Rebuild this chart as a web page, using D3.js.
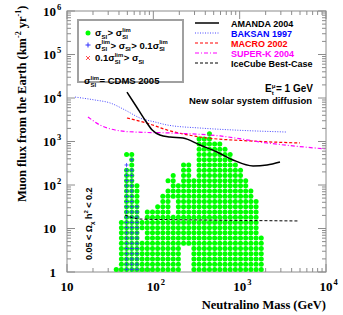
<!DOCTYPE html>
<html>
<head>
<meta charset="UTF-8">
<script src="https://d3js.org/d3.v7.min.js"></script>
<style>
  body { margin: 0; background: #fff; }
  svg text { font-family: "Liberation Serif", serif; font-weight: bold; }
  .sans, .sans text { font-family: "Liberation Sans", Arial, sans-serif; }
</style>
</head>
<body>
<svg id="f1" width="343" height="315"></svg>
<script>
// limit curves, [neutralino mass GeV, muon flux km^-2 yr^-1]
var amanda = [[49.5,13700],[63,6550],[80,3120],[97,1840],[119,1410],[156,1270],[221,1200],
  [347,830],[546,575],[838,376],[1430,273],[2075,288],[2930,338]];
var baksan = [[12.4,10500],[21,9000],[31.5,7700],[47,5300],[70,3470],[105,2800],[144,2400],
  [347,2040],[838,1840],[3530,1650]];
var macro = [[49.5,3470],[91,2520],[144,1840],[347,1270],[1320,1030],[5000,925]];
var superk = [[17.5,3660],[24,2400],[36,1840],[61,1650],[156,1570],[592,1340],[2075,925],[10000,673]];
var icecube = [[47,20.4],[70,16.5],[347,15.7],[4870,14.9]];

// model scan, 50 x 50 bins: log10(mass) from 1 to 4, log10(flux) from 0 to 6
// green: [flux bin, first mass bin, last mass bin]
var scanGreen = [
  [26,27,27],[25,25,27],[24,25,29],[23,25,30],
  [22,11,12],[22,25,31],[21,12,12],[21,25,31],
  [20,12,12],[20,22,23],[20,25,32],
  [19,11,12],[19,22,23],[19,25,33],
  [18,11,12],[18,20,20],[18,22,23],[18,25,33],
  [17,11,12],[17,19,20],[17,22,34],
  [16,11,13],[16,20,34],[15,11,13],[15,19,35],[14,11,13],[14,18,35],
  [13,11,13],[13,18,19],[13,21,36],[12,11,13],[12,17,19],[12,21,36],
  [11,11,13],[11,15,19],[11,21,36],[10,11,13],[10,15,36],
  [9,10,36],[8,10,36],[7,10,13],[7,15,36],[6,10,13],[6,15,37],[5,10,37],
  [4,10,21],[4,24,37],[3,10,21],[3,24,37],[2,10,21],[2,24,37],[1,10,21],[1,24,37],
  [0,9,21],[0,24,37]
];
// blue crosses: [mass bin, first flux bin, last flux bin]
var scanBlue = [[11,0,20],[12,0,19],[12,21,21],[13,0,12]];

var nBins = 50;
var xTicks = [10, 100, 1000, 10000];
var yTicks = [1, 10, 100, 1000, 10000, 100000, 1000000];

var svg = d3.select("#f1");
var x = d3.scaleLog().domain([10, 1e4]).range([67, 326]);
var y = d3.scaleLog().domain([1, 1e6]).range([272, 11]);

function binMass(i) { return Math.pow(10, 1 + 3 * (i + 0.5) / nBins); }
function binFlux(j) { return Math.pow(10, 6 * (j + 0.5) / nBins); }

// writes a run of text pieces; a piece is a string or [sub, sup]
function rich(g, x0, y0, size, parts) {
  var cx = x0;
  parts.forEach(function(p) {
    if (typeof p === "string") {
      var t = g.append("text").attr("x", cx).attr("y", y0).attr("font-size", size).text(p);
      cx += t.node().getComputedTextLength();
    } else {
      var w = 0;
      if (p[0]) {
        var s = g.append("text").attr("x", cx).attr("y", y0 + size * 0.3).attr("font-size", size * 0.62).text(p[0]);
        w = Math.max(w, s.node().getComputedTextLength());
      }
      if (p[1]) {
        var u = g.append("text").attr("x", cx).attr("y", y0 - size * 0.45).attr("font-size", size * 0.62).text(p[1]);
        w = Math.max(w, u.node().getComputedTextLength());
      }
      cx += w + 0.5;
    }
  });
  return cx;
}

// frame + ticks
var frameCol = "#8c8c8c";
svg.append("rect").attr("x", 67).attr("y", 11).attr("width", 259).attr("height", 261)
  .attr("fill", "none").attr("stroke", frameCol).attr("stroke-width", 1);

var xMinor = [], yMinor = [];
for (var d = 10; d < 1e4; d *= 10) for (var k = 2; k < 10; k++) xMinor.push(d * k);
for (var d2 = 1; d2 < 1e6; d2 *= 10) for (var k2 = 2; k2 < 10; k2++) yMinor.push(d2 * k2);

var tk = svg.append("g").attr("stroke", frameCol).attr("stroke-width", 1);
xTicks.concat(xMinor).forEach(function(v) {
  var len = xTicks.indexOf(v) >= 0 ? 8 : 4;
  tk.append("line").attr("x1", x(v)).attr("x2", x(v)).attr("y1", 272).attr("y2", 272 - len);
  tk.append("line").attr("x1", x(v)).attr("x2", x(v)).attr("y1", 11).attr("y2", 11 + len);
});
yTicks.concat(yMinor).forEach(function(v) {
  var len = yTicks.indexOf(v) >= 0 ? 8 : 4;
  tk.append("line").attr("y1", y(v)).attr("y2", y(v)).attr("x1", 67).attr("x2", 67 + len);
  tk.append("line").attr("y1", y(v)).attr("y2", y(v)).attr("x1", 326).attr("x2", 326 - len);
});

// tick labels
yTicks.forEach(function(v) {
  var e = Math.round(Math.log10(v));
  var base = e === 0 ? "1" : "10";
  svg.append("text").attr("x", 56).attr("y", y(v) + 4.5).attr("text-anchor", "end")
    .attr("font-size", 13).text(base);
  if (e > 1) svg.append("text").attr("x", 57).attr("y", y(v) - 1.5).attr("font-size", 8.5).text(e);
});
xTicks.forEach(function(v) {
  var e = Math.round(Math.log10(v));
  svg.append("text").attr("x", x(v)).attr("y", 291).attr("text-anchor", "middle")
    .attr("font-size", 13).text("10");
  if (e > 1) svg.append("text").attr("x", x(v) + 7.5).attr("y", 284.5).attr("font-size", 8.5).text(e);
});

// axis titles
svg.append("text").attr("x", 326).attr("y", 309).attr("text-anchor", "end")
  .attr("font-size", 12.5).text("Neutralino Mass (GeV)");
var yt = svg.append("text").attr("transform", "translate(26,202) rotate(-90)")
  .attr("font-size", 12.5);
yt.append("tspan").text("Muon flux from the Earth (km");
yt.append("tspan").attr("font-size", 8).attr("dy", -5).text("-2");
yt.append("tspan").attr("dy", 5).text(" yr");
yt.append("tspan").attr("font-size", 8).attr("dy", -5).text("-1");
yt.append("tspan").attr("dy", 5).text(")");

// scan points
var pts = svg.append("g");
scanGreen.forEach(function(r) {
  for (var i = r[1]; i <= r[2]; i++) {
    pts.append("circle").attr("cx", x(binMass(i))).attr("cy", y(binFlux(r[0])))
      .attr("r", 2.5).attr("fill", "#00ff00");
  }
});
scanBlue.forEach(function(c) {
  for (var j = c[1]; j <= c[2]; j++) {
    var cx = x(binMass(c[0])), cy = y(binFlux(j));
    pts.append("path").attr("d", "M" + (cx - 2) + "," + cy + "h4M" + cx + "," + (cy - 2) + "v4")
      .attr("stroke", "#3030ff").attr("stroke-width", 0.8).attr("fill", "none");
  }
});

// curves
var line = d3.line().x(function(d) { return x(d[0]); }).y(function(d) { return y(d[1]); })
  .curve(d3.curveMonotoneX);
var curves = [
  {data: baksan, col: "#4848ff", dash: "1,1.5", w: 1},
  {data: macro, col: "#ff0000", dash: "3,2", w: 1.2},
  {data: superk, col: "#ff00ff", dash: "4,2,1,2", w: 1.2},
  {data: icecube, col: "#000000", dash: "3,2", w: 1},
  {data: amanda, col: "#000000", dash: null, w: 1.5}
];
curves.forEach(function(c) {
  svg.append("path").datum(c.data).attr("d", line).attr("fill", "none")
    .attr("stroke", c.col).attr("stroke-width", c.w).attr("stroke-dasharray", c.dash);
});

// right legend
var legItems = [
  {name: "AMANDA 2004", col: "#000000", tcol: "#000000", dash: null, w: 1.5},
  {name: "BAKSAN 1997", col: "#4848ff", tcol: "#0000ff", dash: "1,1.5", w: 1},
  {name: "MACRO 2002", col: "#ff0000", tcol: "#ff0000", dash: "3,2", w: 1.2},
  {name: "SUPER-K 2004", col: "#ff00ff", tcol: "#ff00ff", dash: "4,2,1,2", w: 1.2},
  {name: "IceCube Best-Case", col: "#000000", tcol: "#000000", dash: "3,2", w: 1}
];
legItems.forEach(function(l, i) {
  var ly = 23 + i * 10;
  svg.append("line").attr("x1", 195).attr("x2", 219).attr("y1", ly).attr("y2", ly)
    .attr("stroke", l.col).attr("stroke-width", l.w).attr("stroke-dasharray", l.dash);
  svg.append("text").attr("class", "sans").attr("x", 231).attr("y", ly + 3.5)
    .attr("font-size", 9).attr("fill", l.tcol).text(l.name);
});

var sg = svg.append("g").attr("class", "sans");
rich(sg, 265, 92, 10, ["E", ["t", "\u03bc"], " = 1 GeV"]);
sg.append("text").attr("x", 312).attr("y", 104)
  .attr("text-anchor", "end").attr("font-size", 9.5).text("New solar system diffusion");

// left legend box
svg.append("rect").attr("x", 78).attr("y", 20).attr("width", 105).attr("height", 62)
  .attr("fill", "#fff").attr("stroke", "#a0a0a0").attr("stroke-width", 2);
svg.append("circle").attr("cx", 88).attr("cy", 33).attr("r", 2.5).attr("fill", "#00ff00");
svg.append("path").attr("d", "M85.5,45h5M88,42.5v5").attr("stroke", "#3030ff").attr("fill", "none");
svg.append("path").attr("d", "M86,56l4,4M90,56l-4,4").attr("stroke", "#ff5050").attr("fill", "none");

var lg = svg.append("g").attr("class", "sans");
rich(lg, 95, 36, 9.5, ["\u03c3", ["SI", ""], " > \u03c3", ["SI", "lim"]]);
rich(lg, 95, 48.5, 9.5, ["\u03c3", ["SI", "lim"], " > \u03c3", ["SI", ""], " > 0.1\u03c3", ["SI", "lim"]]);
rich(lg, 95, 61, 9.5, ["0.1\u03c3", ["SI", "lim"], " > \u03c3", ["SI", ""]]);
rich(lg, 84, 84, 9.5, ["\u03c3", ["SI", "lim"], " = CDMS 2005"]);

// relic density label
var om = svg.append("text").attr("class", "sans").attr("transform", "translate(92,260) rotate(-90)")
  .attr("font-size", 9);
om.append("tspan").text("0.05 < \u03a9");
om.append("tspan").attr("font-size", 6).attr("dy", 2).text("\u03c7");
om.append("tspan").attr("dy", -2).text(" h");
om.append("tspan").attr("font-size", 6).attr("dy", -4).text("2");
om.append("tspan").attr("dy", 4).text(" < 0.2");
</script>
</body>
</html>
